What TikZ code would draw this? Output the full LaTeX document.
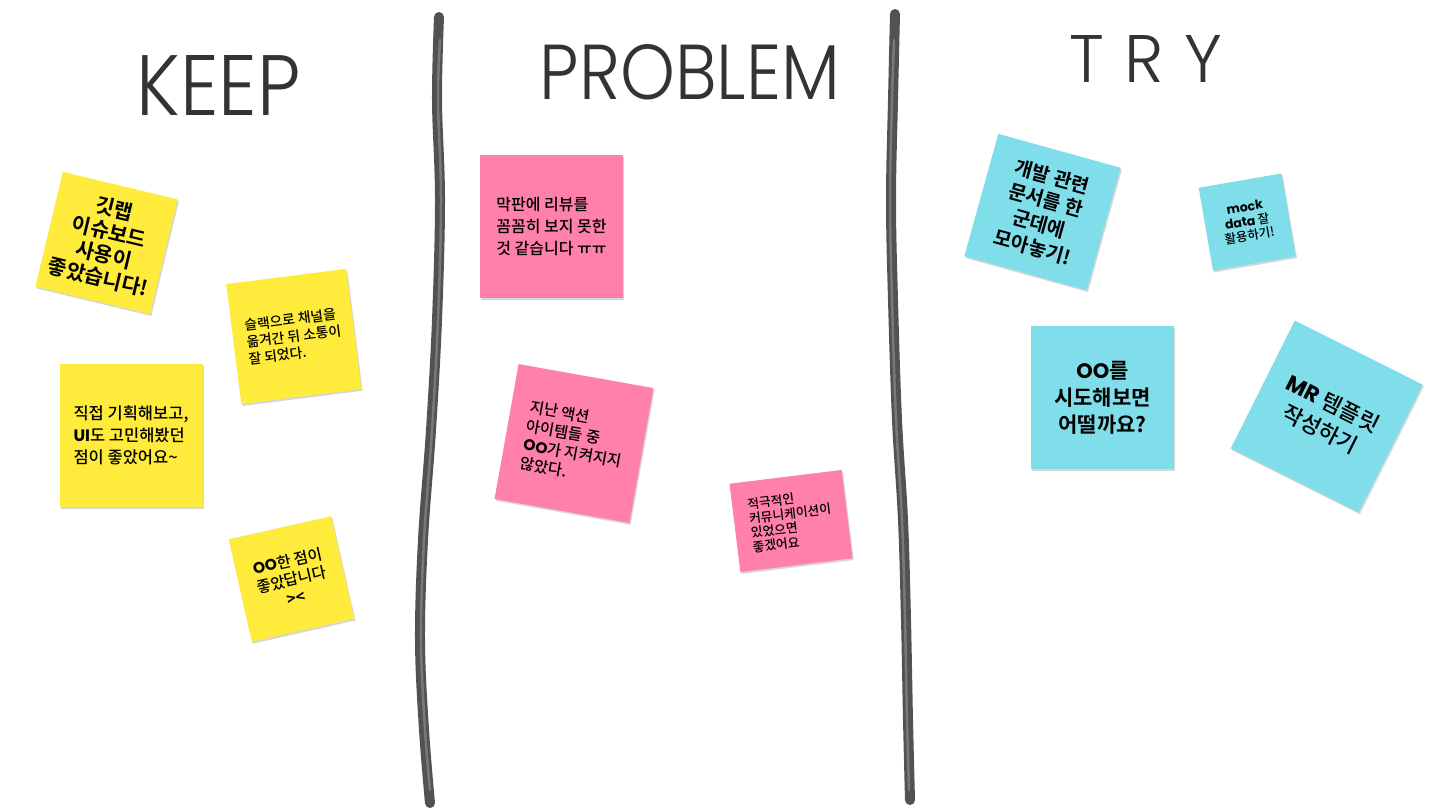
\documentclass[tikz,border=0pt]{standalone}
\usepackage{fontspec}
\usepackage{graphicx}
\setmainfont{Noto Sans CJK KR Medium}[BoldFont={Noto Sans CJK KR Bold}]
\newfontfamily\latf{Poppins}
\newfontfamily\handf{Poppins Light}
\usetikzlibrary{shadows}
\definecolor{ynote}{HTML}{FFEB3B}
\definecolor{pnote}{HTML}{FF80AB}
\definecolor{cnote}{HTML}{80DEEA}
\definecolor{divcol}{HTML}{525252}
\begin{document}
\begin{tikzpicture}[x=1pt,y=-1pt,
  note/.style={inner sep=0pt, minimum width=#1, minimum height=#1, text=black,
    general shadow={fill=black!16, shadow xshift=1.2pt, shadow yshift=-1.8pt}},
  heading/.style={inner sep=0pt, text=black!80},
  divider/.style={draw=divcol, line width=10pt, line cap=round, line join=round},
  divtex/.style={draw=gray!75, line width=2.5pt, line cap=round, opacity=0.5}]
\useasboundingbox (0,0) rectangle (1442,807);
\fill[white] (0,0) rectangle (1442,807);

% dividers
\draw[divider] plot[smooth, tension=0.6] coordinates {(439,17) (437,100) (440,200) (437,320) (431,430) (423,540) (420,640) (424,730) (430,803)};
\draw[divtex] plot[smooth, tension=0.6] coordinates {(440,40) (438,100) (441,200) (438,320) (432,430) (424,540) (421,640) (425,730) (430,790)};
\draw[divider] plot[smooth, tension=0.6] coordinates {(895,14) (893,100) (891,200) (893,300) (897,420) (903,520) (906,620) (908,720) (910,800)};
\draw[divtex] plot[smooth, tension=0.6] coordinates {(894,40) (892,100) (890,200) (892,300) (896,420) (902,520) (905,620) (907,720) (909,790)};

% headings
\node[heading] (keep) at (218.5,85) {\resizebox{164pt}{60pt}{\handf KEEP}};
\node[heading] (problem) at (690,72) {\resizebox{300pt}{55pt}{\handf PROBLEM}};
\node[heading] (try) at (1146,58.5) {\resizebox{152pt}{47pt}{\handf T\hspace{0.3em}R\hspace{0.3em}Y}};

% KEEP notes
\node[note=118pt, fill=ynote, rotate=-13.5, align=center, font=\bfseries\fontsize{20.5}{23.5}\selectfont] (k1) at (106.5,243) {깃랩\\이슈보드\\사용이\\좋았습니다!};
\node[note=121pt, fill=ynote, rotate=7.2, align=left, font=\fontsize{13.8}{17}\selectfont] (k2) at (293.8,336.5) {슬랙으로 채널을\\옮겨간 뒤 소통이\\잘 되었다.};
\node[note=143pt, fill=ynote, align=left, font=\fontsize{16.5}{22}\selectfont] (k3) at (131,435.5) {직접 기획해보고,\\{\latf\bfseries UI}도 고민해봤던\\점이 좋았어요\textasciitilde};
\node[note=105pt, fill=ynote, rotate=12.7, align=center, font=\fontsize{15.5}{19}\selectfont] (k4) at (291.5,579) {{\latf\bfseries OO}한 점이\\좋았답니다\\{\bfseries ><}};

% PROBLEM notes
\node[note=143pt, fill=pnote, align=left, font=\fontsize{16}{22}\selectfont] (p1) at (551.5,226.5) {막판에 리뷰를\\꼼꼼히 보지 못한\\것 같습니다 ㅠㅠ};
\node[note=137pt, fill=pnote, rotate=-10.1, align=left, font=\fontsize{15.5}{19}\selectfont] (p2) at (574,443.5) {지난 액션\\아이템들 중\\{\latf\bfseries OO}가 지켜지지\\않았다.};
\node[note=89pt, minimum width=113pt, fill=pnote, rotate=7, align=left, font=\fontsize{12.8}{14.5}\selectfont] (p3) at (791,521) {적극적인\\커뮤니케이션이\\있었으면\\좋겠어요};

% TRY notes
\node[note=127pt, fill=cnote, rotate=-15.5, align=center, font=\bfseries\fontsize{19.5}{24.5}\selectfont] (t1) at (1042.5,212) {개발 관련\\문서를 한\\군데에\\모아놓기!};
\node[note=84pt, fill=cnote, rotate=9.8, align=center, font=\fontsize{12.5}{14.5}\selectfont] (t2) at (1247.2,222) {{\latf\bfseries mock}\\{\latf\bfseries data} 잘\\활용하기!};
\node[note=143pt, fill=cnote, align=center, font=\bfseries\fontsize{21}{27}\selectfont] (t3) at (1102.5,397.5) {{\latf OO}를\\시도해보면\\어떨까요?};
\node[note=143pt, fill=cnote, rotate=-26.6, align=center, font=\fontsize{22}{28}\selectfont] (t4) at (1326.7,416.5) {{\latf\bfseries MR} 템플릿\\작성하기};
\end{tikzpicture}
\end{document}
